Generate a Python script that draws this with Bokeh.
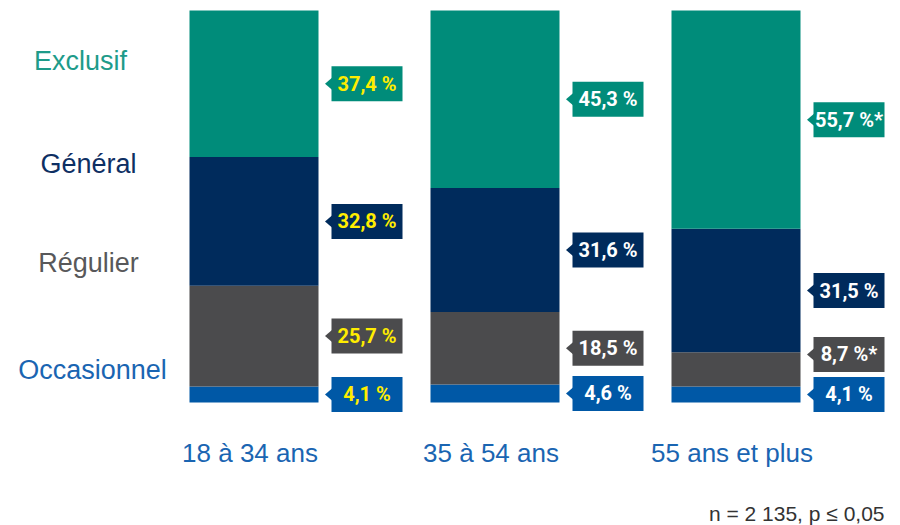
from bokeh.plotting import figure
from bokeh.models import Range1d, ColumnDataSource
from bokeh.embed import file_html
from bokeh.resources import INLINE
from bokeh.core.properties import value

# ---------------- data ----------------
groups = ["18 à 34 ans", "35 à 54 ans", "55 ans et plus"]
categories = ["Occasionnel", "Régulier", "Général", "Exclusif"]  # bottom -> top
occasionnel = [4.1, 4.6, 4.1]
regulier = [25.7, 18.5, 8.7]
general = [32.8, 31.6, 31.5]
exclusif = [37.4, 45.3, 55.7]
sig_occasionnel = [False, False, False]
sig_regulier = [False, False, True]
sig_general = [False, False, False]
sig_exclusif = [False, False, True]
footnote = "n = 2 135, p ≤ 0,05"

series = [occasionnel, regulier, general, exclusif]
sigs = [sig_occasionnel, sig_regulier, sig_general, sig_exclusif]

# ---------------- styles ----------------
bar_colors = ["#0058A6", "#4B4B4D", "#002B5C", "#008C7A"]
cat_text_colors = ["#1A65B2", "#58585A", "#0E2F63", "#1E9B8A"]
tag_text_colors = ["#FFED00", "#FFFFFF", "#FFFFFF"]
group_color = "#1A65B2"

W, H = 900, 525
PX = 241.0   # pixels per x unit
PY = 3.92    # pixels per y unit (percent)
CX0 = 253.5  # pixel of first bar centre
BASE = 402   # pixel of 0 %
X0 = -CX0 / PX
Y0 = -(H - BASE) / PY

p = figure(width=W, height=H, output_backend="svg", toolbar_location=None,
           x_range=Range1d(X0, X0 + W / PX), y_range=Range1d(Y0, Y0 + H / PY),
           x_axis_location=None, y_axis_location=None, min_border=0)
p.grid.visible = False
p.outline_line_color = None
p.background_fill_color = "white"

xs = list(range(len(groups)))
data = {"x": xs}
for c, s in zip(categories, series):
    data[c] = s
src = ColumnDataSource(data)
bar_w = 129 / PX
p.vbar_stack(categories, x="x", width=bar_w, color=bar_colors, line_color=None, source=src)

# ---------------- value tags ----------------
tag_w, tag_h = 71, 35
gap = 40 / PY
tx, ty, tt, tc, tf = [], [], [], [], []
tri_xs, tri_ys, tri_c = [], [], []
for gi in xs:
    base = 0.0
    prev = None
    for ci, (s, sg) in enumerate(zip(series, sigs)):
        v = s[gi]
        mid = base + v / 2
        y = mid if prev is None else max(mid, prev + gap)
        prev = y
        base += v
        cx = gi + (64.5 + 13 + tag_w / 2) / PX
        tx.append(cx); ty.append(y)
        tt.append(f"{v:.1f}".replace(".", ",") + " %" + ("*" if sg[gi] else ""))
        tc.append(bar_colors[ci]); tf.append(tag_text_colors[gi])
        tip = gi + (64.5 + 6.5) / PX
        bx = gi + (64.5 + 13.5) / PX
        hh = 6 / PY
        tri_xs.append([tip, bx, bx]); tri_ys.append([y, y + hh, y - hh]); tri_c.append(bar_colors[ci])

p.rect(x=tx, y=ty, width=tag_w, height=tag_h, width_units="screen", height_units="screen",
       fill_color=tc, line_color=None)
p.patches(xs=tri_xs, ys=tri_ys, fill_color=tri_c, line_color=None)
p.text(x=tx, y=ty, text=tt, text_color=tf, text_align="center", text_baseline="middle",
       text_font=value("Roboto"), text_font_style="bold", text_font_size="20px")

# ---------------- category labels (left) ----------------
left_px = [92, 88, 88, 80]
left_py = [369, 262, 163, 60]
p.text(x=[(a - CX0) / PX for a in left_px], y=[(BASE - b) / PY for b in left_py],
       text=categories, text_color=cat_text_colors, text_align="center", text_baseline="middle",
       text_font=value("Liberation Sans"), text_font_size="27px")

# ---------------- group labels ----------------
p.text(x=xs, y=[(BASE - 452) / PY] * len(xs), text=groups, text_color=group_color,
       text_align="center", text_baseline="middle", x_offset=-4,
       text_font=value("Liberation Sans"), text_font_size="26px")

# ---------------- footnote ----------------
p.text(x=[(884 - CX0) / PX], y=[(BASE - 513) / PY], text=[footnote], text_color="#333333",
       text_align="right", text_baseline="middle",
       text_font=value("Liberation Sans"), text_font_size="21px")

open("out.html", "w").write(file_html(p, INLINE))
